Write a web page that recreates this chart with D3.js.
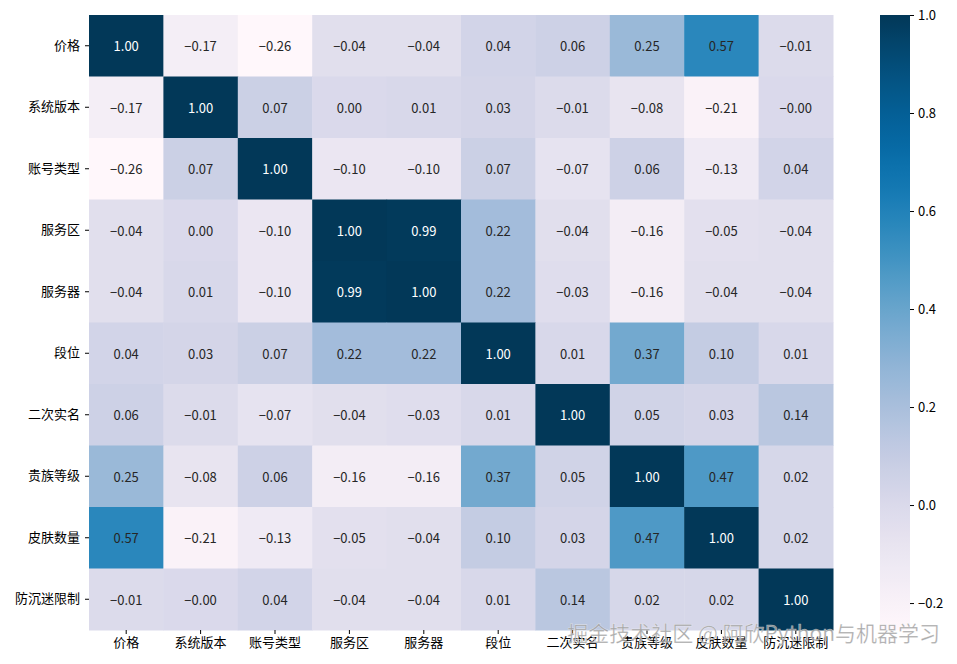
<!DOCTYPE html>
<html><head><meta charset="utf-8">
<script src="https://cdn.jsdelivr.net/npm/d3@7"></script>
<style>body{margin:0;background:#fff;} text{font-family:"Noto Sans CJK SC","DejaVu Sans",sans-serif;}</style>
</head><body>
<svg id="c" width="957" height="664"></svg>
<script>
const labels = ["价格","系统版本","账号类型","服务区","服务器","段位","二次实名","贵族等级","皮肤数量","防沉迷限制"];
const r0 = [1.00,-0.17,-0.26,-0.04,-0.04,0.04,0.06,0.25,0.57,-0.01];
const r1 = [-0.17,1.00,0.07,0.00,0.01,0.03,-0.01,-0.08,-0.21,-0.001];
const r2 = [-0.26,0.07,1.00,-0.10,-0.10,0.07,-0.07,0.06,-0.13,0.04];
const r3 = [-0.04,0.00,-0.10,1.00,0.99,0.22,-0.04,-0.16,-0.05,-0.04];
const r4 = [-0.04,0.01,-0.10,0.99,1.00,0.22,-0.03,-0.16,-0.04,-0.04];
const r5 = [0.04,0.03,0.07,0.22,0.22,1.00,0.01,0.37,0.10,0.01];
const r6 = [0.06,-0.01,-0.07,-0.04,-0.03,0.01,1.00,0.05,0.03,0.14];
const r7 = [0.25,-0.08,0.06,-0.16,-0.16,0.37,0.05,1.00,0.47,0.02];
const r8 = [0.57,-0.21,-0.13,-0.05,-0.04,0.10,0.03,0.47,1.00,0.02];
const r9 = [-0.01,-0.001,0.04,-0.04,-0.04,0.01,0.14,0.02,0.02,1.00];
const matrix = [r0,r1,r2,r3,r4,r5,r6,r7,r8,r9];
const cbTicks = [-0.2,0.0,0.2,0.4,0.6,0.8,1.0];
const vmin = -0.255, vmax = 1.0;
const watermark = "掘金技术社区 @ 阿欣Python与机器学习";

const svg = d3.select("#c");
const L=89, R=833, T=15, B=630;
const x = d3.scaleBand().domain(labels).range([L,R]);
const y = d3.scaleBand().domain(labels).range([T,B]);
const cnorm = d3.scaleLinear().domain([vmin,vmax]).range([0,1]).clamp(true);
const color = v => d3.interpolatePuBu(cnorm(v));
const fmt = v => (v<0 ? "−" : "") + Math.abs(v).toFixed(2);

const cells = [];
matrix.forEach((row,i)=>row.forEach((v,j)=>cells.push({r:labels[i],c:labels[j],v})));

svg.append("g").selectAll("rect").data(cells).join("rect")
  .attr("x",d=>x(d.c)).attr("y",d=>y(d.r))
  .attr("width",x.bandwidth()+0.5).attr("height",y.bandwidth()+0.5)
  .attr("fill",d=>color(d.v));

svg.append("g").selectAll("text").data(cells).join("text")
  .attr("x",d=>x(d.c)+x.bandwidth()/2).attr("y",d=>y(d.r)+y.bandwidth()/2)
  .attr("text-anchor","middle").attr("dominant-baseline","central")
  .attr("font-size",13)
  .attr("fill",d=>{const c=d3.rgb(color(d.v)); const lum=(0.2126*c.r+0.7152*c.g+0.0722*c.b)/255; return lum<0.408?"#fff":"#262626";})
  .text(d=>fmt(d.v));

const ax = svg.append("g").attr("transform",`translate(0,${B})`).call(d3.axisBottom(x).tickSize(4).tickPadding(4));
ax.select(".domain").remove();
ax.selectAll("text").attr("font-size",13).attr("fill","#000");
const ay = svg.append("g").attr("transform",`translate(${L},0)`).call(d3.axisLeft(y).tickSize(4).tickPadding(5));
ay.select(".domain").remove();
ay.selectAll("text").attr("font-size",13).attr("fill","#000");

// colorbar
const cbX=880, cbW=30;
const cy = d3.scaleLinear().domain([vmin,vmax]).range([B,T]);
const defs = svg.append("defs");
const grad = defs.append("linearGradient").attr("id","g").attr("x1",0).attr("y1",1).attr("x2",0).attr("y2",0);
d3.range(0,1.0001,0.02).forEach(t=>grad.append("stop").attr("offset",t).attr("stop-color",d3.interpolatePuBu(t)));
svg.append("rect").attr("x",cbX).attr("y",T).attr("width",cbW).attr("height",B-T).attr("fill","url(#g)");
const ac = svg.append("g").attr("transform",`translate(${cbX+cbW},0)`)
  .call(d3.axisRight(cy).tickValues(cbTicks).tickFormat(d3.format(".1f")).tickSize(4).tickPadding(4));
ac.select(".domain").remove();
ac.selectAll("text").attr("font-size",13).attr("fill","#000");

svg.append("text").attr("x",940).attr("y",641).attr("text-anchor","end")
  .attr("font-size",21).attr("fill","#9a9a9a").attr("fill-opacity",0.85)
  .attr("stroke","#fff").attr("stroke-width",0.6).attr("stroke-opacity",0.5)
  .text(watermark);
</script>
</body></html>
